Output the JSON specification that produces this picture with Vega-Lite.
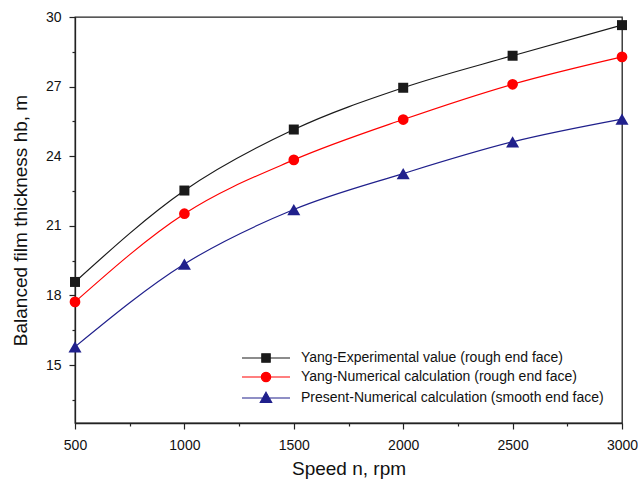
{
  "$schema": "https://vega.github.io/schema/vega-lite/v6.json",
  "width": 547,
  "height": 406,
  "autosize": {"type": "none"},
  "padding": {"left": 75, "top": 17, "right": 16, "bottom": 69},
  "background": "white",
  "config": {
    "font": "Liberation Sans",
    "view": {"stroke": "#222222", "strokeWidth": 1.3},
    "axis": {"domainColor": "#222222", "tickColor": "#222222", "labelColor": "#111111", "titleColor": "#111111", "grid": false, "labelFont": "Liberation Sans", "titleFont": "Liberation Sans", "titleFontWeight": "normal", "domainWidth": 1.3, "tickWidth": 1.2}
  },
  "data": {
    "values": [
      {"speed": 500, "h": 18.58, "series": "Yang-Experimental value (rough end face)"},
      {"speed": 1000, "h": 22.52, "series": "Yang-Experimental value (rough end face)"},
      {"speed": 1500, "h": 25.15, "series": "Yang-Experimental value (rough end face)"},
      {"speed": 2000, "h": 26.95, "series": "Yang-Experimental value (rough end face)"},
      {"speed": 2500, "h": 28.33, "series": "Yang-Experimental value (rough end face)"},
      {"speed": 3000, "h": 29.65, "series": "Yang-Experimental value (rough end face)"},
      {"speed": 500, "h": 17.72, "series": "Yang-Numerical calculation (rough end face)"},
      {"speed": 1000, "h": 21.52, "series": "Yang-Numerical calculation (rough end face)"},
      {"speed": 1500, "h": 23.84, "series": "Yang-Numerical calculation (rough end face)"},
      {"speed": 2000, "h": 25.58, "series": "Yang-Numerical calculation (rough end face)"},
      {"speed": 2500, "h": 27.1, "series": "Yang-Numerical calculation (rough end face)"},
      {"speed": 3000, "h": 28.28, "series": "Yang-Numerical calculation (rough end face)"},
      {"speed": 500, "h": 15.78, "series": "Present-Numerical calculation (smooth end face)"},
      {"speed": 1000, "h": 19.35, "series": "Present-Numerical calculation (smooth end face)"},
      {"speed": 1500, "h": 21.7, "series": "Present-Numerical calculation (smooth end face)"},
      {"speed": 2000, "h": 23.25, "series": "Present-Numerical calculation (smooth end face)"},
      {"speed": 2500, "h": 24.62, "series": "Present-Numerical calculation (smooth end face)"},
      {"speed": 3000, "h": 25.6, "series": "Present-Numerical calculation (smooth end face)"}
    ]
  },
  "resolve": {"axis": {"x": "independent", "y": "independent"}},
  "layer": [
    {
      "mark": {"type": "line", "interpolate": "monotone", "strokeWidth": 1.2},
      "encoding": {
        "x": {"field": "speed", "type": "quantitative", "scale": {"domain": [500, 3000], "nice": false, "zero": false},
          "axis": {"orient": "bottom", "values": [500, 1000, 1500, 2000, 2500, 3000], "format": "d", "tickSize": 6, "labelPadding": 9, "labelFontSize": 14, "title": "Speed n, rpm", "titleFontSize": 19, "titlePadding": 7, "labelFlush": false}},
        "y": {"field": "h", "type": "quantitative", "scale": {"domain": [12.5, 30], "nice": false, "zero": false},
          "axis": {"orient": "left", "values": [15, 18, 21, 24, 27, 30], "tickSize": 6, "labelPadding": 8, "labelFontSize": 14, "title": "Balanced film thickness hb, m", "titleFontSize": 19, "titlePadding": 15}},
        "color": {"field": "series", "type": "nominal",
          "scale": {"domain": ["Yang-Experimental value (rough end face)", "Yang-Numerical calculation (rough end face)", "Present-Numerical calculation (smooth end face)"], "range": ["#1a1a1a", "#ff0000", "#20208c"]},
          "legend": {"orient": "bottom-right", "offset": 18, "padding": 0, "title": null, "labelFontSize": 14, "labelColor": "#111111", "symbolSize": 144, "labelOffset": 46, "rowPadding": 4, "labelLimit": 400, "symbolStrokeWidth": 1.2, "symbolOpacity": 1}}
      }
    },
    {
      "transform": [{"filter": "datum.series == 'Yang-Experimental value (rough end face)'"}],
      "mark": {"type": "point", "filled": true, "opacity": 1, "shape": "square", "size": 100},
      "encoding": {
        "x": {"field": "speed", "type": "quantitative",
          "axis": {"orient": "bottom", "values": [750, 1250, 1750, 2250, 2750], "tickSize": 3, "labels": false, "domain": false, "title": null}},
        "y": {"field": "h", "type": "quantitative",
          "axis": {"orient": "left", "values": [13.5, 16.5, 19.5, 22.5, 25.5, 28.5], "tickSize": 3, "labels": false, "domain": false, "title": null}},
        "color": {"field": "series", "type": "nominal"}
      }
    },
    {
      "transform": [{"filter": "datum.series == 'Yang-Numerical calculation (rough end face)'"}],
      "mark": {"type": "point", "filled": true, "opacity": 1, "shape": "circle", "size": 115},
      "encoding": {
        "x": {"field": "speed", "type": "quantitative", "axis": null},
        "y": {"field": "h", "type": "quantitative", "axis": null},
        "color": {"field": "series", "type": "nominal"}
      }
    },
    {
      "transform": [{"filter": "datum.series == 'Present-Numerical calculation (smooth end face)'"}],
      "mark": {"type": "point", "filled": true, "opacity": 1, "shape": "triangle-up", "size": 170},
      "encoding": {
        "x": {"field": "speed", "type": "quantitative", "axis": null},
        "y": {"field": "h", "type": "quantitative", "axis": null},
        "color": {"field": "series", "type": "nominal"}
      }
    },
    {
      "transform": [{"filter": "datum.speed < 0"}],
      "mark": {"type": "point", "filled": true, "opacity": 1, "strokeWidth": 1.2},
      "encoding": {
        "x": {"field": "speed", "type": "quantitative", "axis": null},
        "y": {"field": "h", "type": "quantitative", "axis": null},
        "color": {"field": "series", "type": "nominal"},
        "stroke": {"field": "series", "type": "nominal",
          "scale": {"domain": ["Yang-Experimental value (rough end face)", "Yang-Numerical calculation (rough end face)", "Present-Numerical calculation (smooth end face)"], "range": ["#1a1a1a", "#ff0000", "#20208c"]}},
        "shape": {"field": "series", "type": "nominal",
          "scale": {"domain": ["Yang-Experimental value (rough end face)", "Yang-Numerical calculation (rough end face)", "Present-Numerical calculation (smooth end face)"],
            "range": ["M-1,0H7M2.3,-0.7H3.7V0.7H2.3Z", "M3.78,0A0.78,0.78 0 1,1 2.22,0A0.78,0.78 0 1,1 3.78,0Z M-1,0H7", "M-1,0H7M3,-0.95L3.95,0.75L2.05,0.75Z"]}}
      }
    }
  ]
}
